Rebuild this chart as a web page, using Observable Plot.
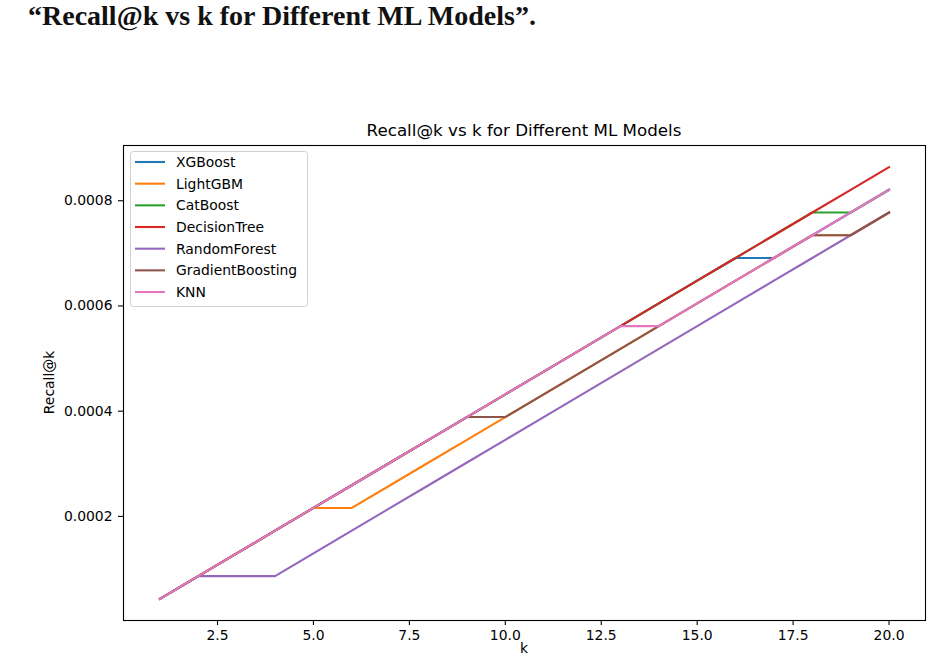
<!DOCTYPE html>
<html>
<head>
<meta charset="utf-8">
<script src="https://cdn.jsdelivr.net/npm/d3@7"></script>
<script src="https://cdn.jsdelivr.net/npm/@observablehq/plot@0.6"></script>
<style>
  html, body { margin: 0; padding: 0; background: #fff; }
  #page { position: relative; width: 950px; height: 656px; overflow: hidden; }
  #header { position: relative; height: 40px; }
  #header div { position: absolute; left: 28px; top: 2px; font: bold 28px "Liberation Serif", "Times New Roman", serif; line-height: 28px; color: #111; white-space: nowrap; }
  #chart svg { display: block; }
</style>
</head>
<body>
<div id="page">
  <div id="header"><div>“Recall@k vs k for Different ML Models”.</div></div>
  <div id="chart"></div>
</div>
<script>
// ---- data ----
const kValues = [1,2,3,4,5,6,7,8,9,10,11,12,13,14,15,16,17,18,19,20];
const modelNames = ["XGBoost","LightGBM","CatBoost","DecisionTree","RandomForest","GradientBoosting","KNN"];
const modelColors = ["#1f77b4","#ff7f0e","#2ca02c","#d62728","#9467bd","#8c564b","#e377c2"];

const xgboost = [0.0000432,0.0000864,0.0001296,0.0001728,0.000216,0.0002592,0.0003024,0.0003456,0.0003888,0.000432,0.0004752,0.0005184,0.0005616,0.0006048,0.000648,0.0006912,0.0006912,0.0007344,0.0007776,0.0008208];
const lightgbm = [0.0000432,0.0000864,0.0001296,0.0001728,0.000216,0.000216,0.0002592,0.0003024,0.0003456,0.0003888,0.000432,0.0004752,0.0005184,0.0005616,0.0006048,0.000648,0.0006912,0.0007344,0.0007344,0.0007776];
const catboost = [0.0000432,0.0000864,0.0001296,0.0001728,0.000216,0.0002592,0.0003024,0.0003456,0.0003888,0.000432,0.0004752,0.0005184,0.0005616,0.0006048,0.000648,0.0006912,0.0007344,0.0007776,0.0007776,0.0008208];
const decisionTree = [0.0000432,0.0000864,0.0001296,0.0001728,0.000216,0.0002592,0.0003024,0.0003456,0.0003888,0.000432,0.0004752,0.0005184,0.0005616,0.0006048,0.000648,0.0006912,0.0007344,0.0007776,0.0008208,0.000864];
const randomForest = [0.0000432,0.0000864,0.0000864,0.0000864,0.0001296,0.0001728,0.000216,0.0002592,0.0003024,0.0003456,0.0003888,0.000432,0.0004752,0.0005184,0.0005616,0.0006048,0.000648,0.0006912,0.0007344,0.0007776];
const gradientBoosting = [0.0000432,0.0000864,0.0001296,0.0001728,0.000216,0.0002592,0.0003024,0.0003456,0.0003888,0.0003888,0.000432,0.0004752,0.0005184,0.0005616,0.0006048,0.000648,0.0006912,0.0007344,0.0007344,0.0007776];
const knn = [0.0000432,0.0000864,0.0001296,0.0001728,0.000216,0.0002592,0.0003024,0.0003456,0.0003888,0.000432,0.0004752,0.0005184,0.0005616,0.0005616,0.0006048,0.000648,0.0006912,0.0007344,0.0007776,0.0008208];

const xTicks = [2.5,5,7.5,10,12.5,15,17.5,20];
const yTicks = [0.0002,0.0004,0.0006,0.0008];
const chartTitle = "Recall@k vs k for Different ML Models";
const xLabel = "k";
const yLabel = "Recall@k";

// ---- build table ----
const seriesValues = [xgboost, lightgbm, catboost, decisionTree, randomForest, gradientBoosting, knn];
const rowsBySeries = modelNames.map((name, i) =>
  kValues.map((k, j) => ({model: name, k, recall: seriesValues[i][j]})));

const FONT = "DejaVu Sans, Verdana, sans-serif";
const W = 950, H = 616, mL = 123, mR = 25, mT = 105, mB = 36;

const chart = Plot.plot({
  width: W, height: H,
  marginLeft: mL, marginRight: mR, marginTop: mT, marginBottom: mB,
  style: {fontFamily: FONT, fontSize: "13.9px", color: "#000", background: "#fff", overflow: "visible"},
  x: {domain: [0.05, 20.95]},
  y: {domain: [0.0000021, 0.000905]},
  color: {domain: modelNames, range: modelColors},
  marks: [
    ...rowsBySeries.map(rows => Plot.line(rows, {x: "k", y: "recall", stroke: "model", strokeWidth: 2.1, strokeLinejoin: "round", strokeLinecap: "square"})),
    Plot.frame({stroke: "#000", strokeWidth: 1.1}),
    Plot.axisX({ticks: xTicks, tickFormat: d3.format(".1f"), tickSize: 5, tickPadding: 5, label: null, strokeWidth: 1.1, fontSize: 13.9}),
    Plot.axisY({ticks: yTicks, tickFormat: d3.format(".4f"), tickSize: 5, tickPadding: 6, label: null, strokeWidth: 1.1, fontSize: 13.9})
  ]
});
document.getElementById("chart").appendChild(chart);

// ---- title, axis labels, legend ----
const svg = d3.select(chart);
const cx = mL + (W - mL - mR) / 2;
svg.append("text").attr("x", cx).attr("y", 96).attr("text-anchor", "middle")
  .attr("font-family", FONT).attr("font-size", 16.7).attr("fill", "#000").text(chartTitle);
svg.append("text").attr("x", cx).attr("y", 613).attr("text-anchor", "middle")
  .attr("font-family", FONT).attr("font-size", 13.9).attr("fill", "#000").text(xLabel);
svg.append("text").attr("transform", `translate(49,${mT + (H - mT - mB) / 2}) rotate(-90)`)
  .attr("text-anchor", "middle").attr("dominant-baseline", "central")
  .attr("font-family", FONT).attr("font-size", 13.9).attr("fill", "#000").text(yLabel);

const lg = svg.append("g").attr("transform", "translate(130,111)");
lg.append("rect").attr("x", 0.5).attr("y", 0.5).attr("width", 177).attr("height", 155).attr("rx", 3)
  .attr("fill", "#fff").attr("fill-opacity", 0.8).attr("stroke", "#d0d0d0").attr("stroke-width", 1);
modelNames.forEach((name, i) => {
  const y = 11 + i * 21.67;
  lg.append("line").attr("x1", 5).attr("x2", 35).attr("y1", y).attr("y2", y)
    .attr("stroke", modelColors[i]).attr("stroke-width", 2.1);
  lg.append("text").attr("x", 46).attr("y", y).attr("text-anchor", "start").attr("dominant-baseline", "central")
    .attr("font-family", FONT).attr("font-size", 13.9).attr("fill", "#000").text(name);
});
</script>
</body>
</html>
